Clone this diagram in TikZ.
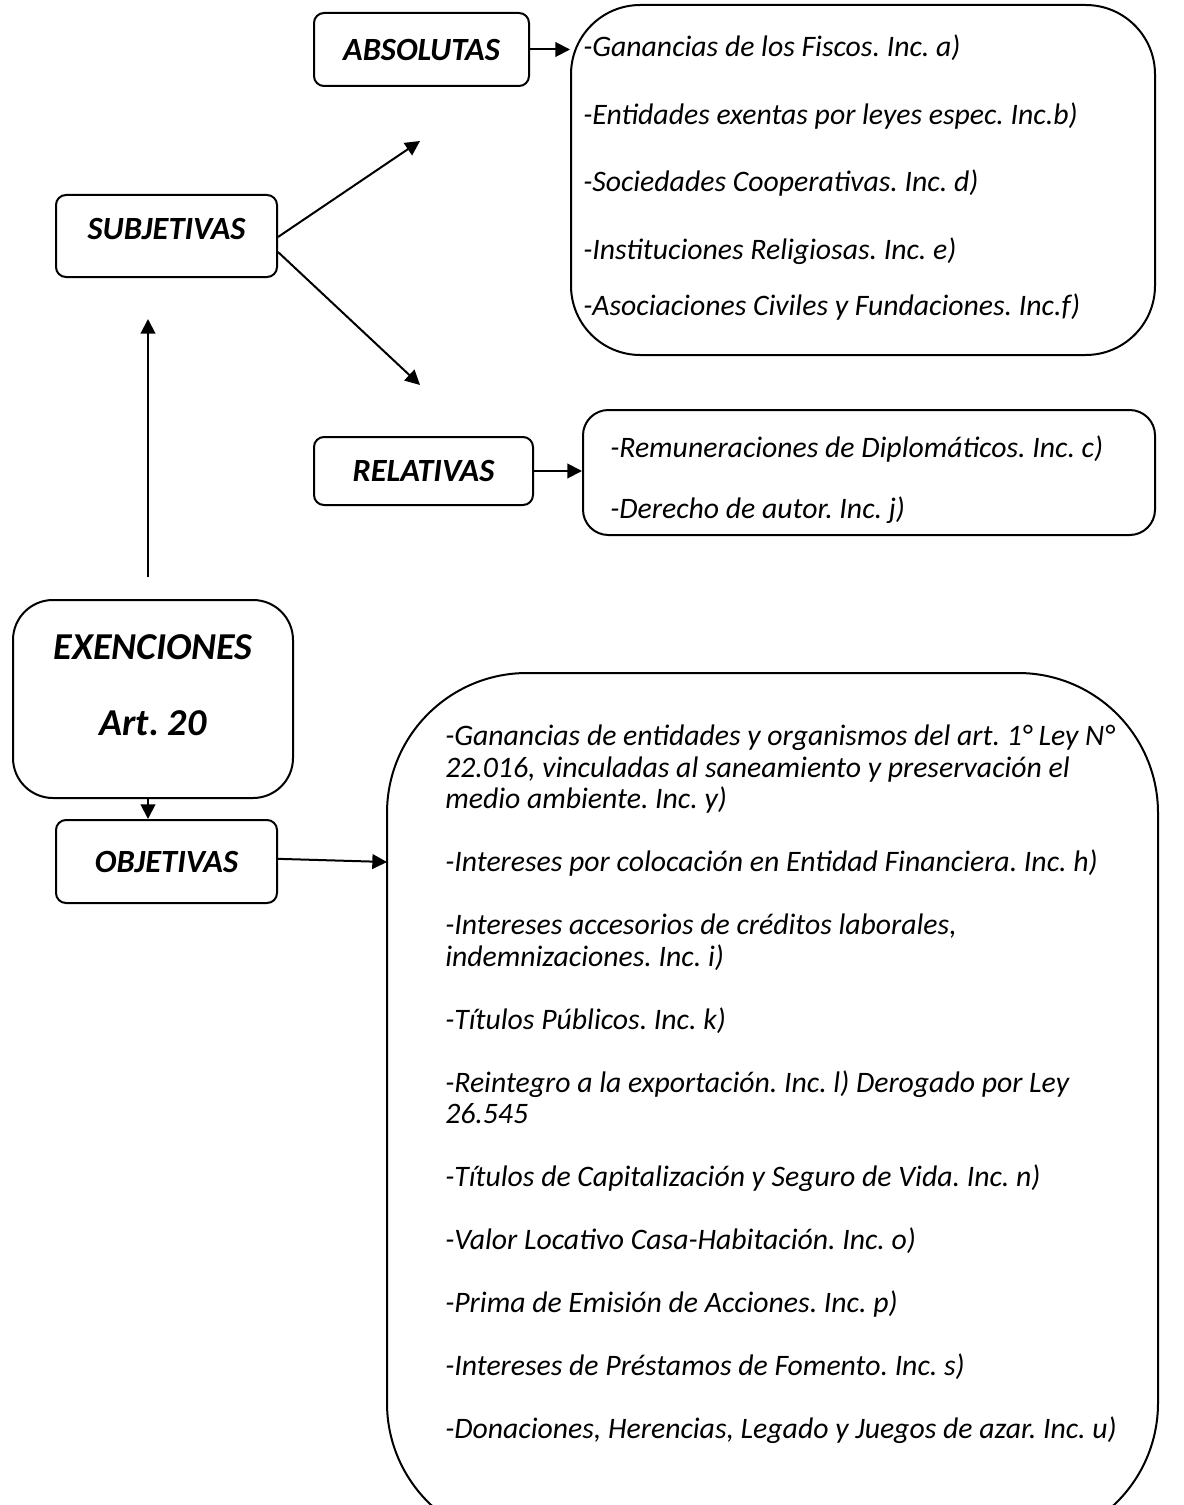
\documentclass[tikz,border=0pt]{standalone}
\usepackage{fontspec}
\setmainfont{Carlito}
\frenchspacing
\usetikzlibrary{arrows.meta}

\tikzset{
  tipbox/.style={draw, line width=1.5pt, rounded corners=7.5pt, font=\fontsize{24.3}{28}\selectfont\bfseries\itshape, align=center, inner sep=0pt},
  listbox/.style={draw, line width=1.5pt, inner sep=0pt},
  listtxt/.style={anchor=north west, align=left, inner sep=0pt, font=\fontsize{22.3}{23.6}\selectfont\itshape},
  flecha/.style={line width=1.5pt, -{Triangle[length=11pt,width=11pt]}}
}

\begin{document}
\begin{tikzpicture}[x=0.75pt, y=-0.75pt]
			%%%%% START %%%%%
			\useasboundingbox (0,0) rectangle (1183,1505);
			\clip (0,0) rectangle (1183,1505);
			
			% cajas de tipos
			\node[tipbox, minimum width=161.25pt, minimum height=54.75pt] (absolutas) at (421.5, 49.5) {ABSOLUTAS};
			\node[tipbox, minimum width=165.75pt, minimum height=61.5pt] (subjetivas) at (166.5, 236) {};
			\node[font=\fontsize{24.3}{28}\selectfont\bfseries\itshape] (subjtxt) at (166.5, 229) {SUBJETIVAS};
			\node[tipbox, minimum width=164.25pt, minimum height=51pt] (relativas) at (423.5, 471) {RELATIVAS};
			\node[tipbox, minimum width=165.75pt, minimum height=62.25pt] (objetivas) at (166.5, 861.5) {OBJETIVAS};
			\node[tipbox, rounded corners=30pt, minimum width=210pt, minimum height=148.5pt] (exenciones) at (153, 699) {};
			\node[align=center, font=\fontsize{28.5}{32}\selectfont\bfseries\itshape] (exentxt) at (153, 685) {EXENCIONES\\[25pt]Art. 20};
			
			% cajas de listas
			\node[listbox, rounded corners=52pt, minimum width=438pt, minimum height=262.5pt] (absbox) at (863, 180) {};
			\node[listbox, rounded corners=19pt, minimum width=429pt, minimum height=93.75pt] (relbox) at (869, 472.5) {};
			\node[listbox, rounded corners=105pt, minimum width=578.25pt, minimum height=652.5pt] (objbox) at (772.5, 1108) {};
			
			\node[listtxt] (abstxt) at (583, 35) {%
				-Ganancias de los Fiscos. Inc. a)\\[27pt]
				-Entidades exentas por leyes espec. Inc.b)\\[27pt]
				-Sociedades Cooperativas. Inc. d)\\[27pt]
				-Instituciones Religiosas. Inc. e)\\[18.5pt]
				-Asociaciones Civiles y Fundaciones. Inc.f)};
			\node[listtxt] (reltxt) at (610, 436) {%
				-Remuneraciones de Diplomáticos. Inc. c)\\[22pt]
				-Derecho de autor. Inc. j)};
			\node[listtxt] (objtxt) at (445, 725) {%
				-Ganancias de entidades y organismos del art. 1° Ley N°\\
				22.016, vinculadas al saneamiento y preservación el\\
				medio ambiente. Inc. y)\\[23.6pt]
				-Intereses por colocación en Entidad Financiera. Inc. h)\\[23.6pt]
				-Intereses accesorios de créditos laborales,\\
				indemnizaciones. Inc. i)\\[23.6pt]
				-Títulos Públicos. Inc. k)\\[23.6pt]
				-Reintegro a la exportación. Inc. l) Derogado por Ley\\
				26.545\\[23.6pt]
				-Títulos de Capitalización y Seguro de Vida. Inc. n)\\[23.6pt]
				-Valor Locativo Casa-Habitación. Inc. o)\\[23.6pt]
				-Prima de Emisión de Acciones. Inc. p)\\[23.6pt]
				-Intereses de Préstamos de Fomento. Inc. s)\\[23.6pt]
				-Donaciones, Herencias, Legado y Juegos de azar. Inc. u)};
			
			% extremos libres
			\coordinate (haciaabs) at (420, 141);
			\coordinate (haciarel) at (420, 385);
			\coordinate (subida) at (148, 577);
			\coordinate (llegada) at (148, 319);
			\coordinate (objpunta) at (387, 862);
			
			% flechas
			\draw[flecha] (absolutas.east) -- (absolutas.east -| absbox.west);
			\draw[flecha] (relativas.east) -- (relativas.east -| relbox.west);
			\draw[flecha] ([yshift=-0.75pt]subjetivas.east) -- (haciaabs);
			\draw[flecha] ([yshift=-12pt]subjetivas.east) -- (haciarel);
			\draw[flecha] (subida) -- (llegada);
			\draw[flecha] (exenciones.south -| subida) -- (objetivas.north -| subida);
			\draw[flecha] ([yshift=2pt]objetivas.east) -- (objpunta);
			%%%%% END %%%%%
\end{tikzpicture}
\end{document}
